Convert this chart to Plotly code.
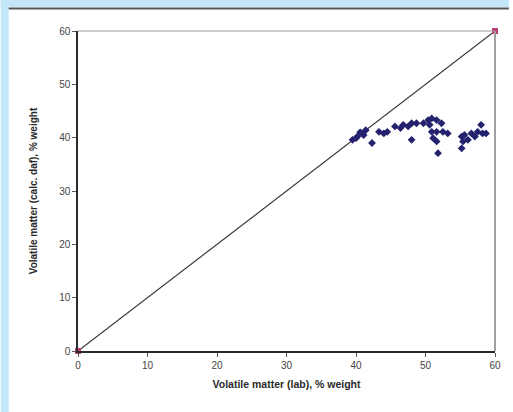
import plotly.graph_objects as go

# Laboratory vs calculated volatile matter (% weight)
vm_lab = [39.5, 40.2, 40.9, 41.4, 41.1, 42.3, 43.3, 44.0, 44.5, 45.6,
          46.4, 46.8, 47.5, 48.0, 48.0, 48.7, 49.7, 50.4, 50.9, 51.6,
          50.6, 50.9, 51.6, 51.1, 51.6, 51.8, 52.5, 53.2, 52.3, 55.2,
          55.6, 55.4, 55.2, 56.1, 56.6, 57.1, 57.5, 58.0, 58.7, 58.2,
          40.0, 40.6]
vm_calc = [39.6, 40.2, 40.8, 41.4, 40.5, 39.0, 41.1, 40.8, 41.1, 42.1,
           41.8, 42.4, 42.1, 39.6, 42.7, 42.7, 42.7, 43.3, 43.6, 43.3,
           42.4, 41.1, 41.1, 39.9, 39.3, 37.1, 41.1, 40.8, 42.7, 40.2,
           40.5, 39.3, 38.0, 39.6, 40.8, 40.2, 41.1, 42.4, 40.8, 40.8,
           39.9, 41.0]

# 1:1 reference line
ref_x = [0, 60]
ref_y = [0, 60]

ticks = [0, 10, 20, 30, 40, 50, 60]

fig = go.Figure()
fig.add_trace(go.Scatter(
    x=ref_x, y=ref_y, mode="lines+markers",
    line=dict(color="#3a3a3a", width=1.2),
    marker=dict(symbol="square", size=6, color="#c03a78"),
    cliponaxis=False, showlegend=False, hoverinfo="skip"))
fig.add_trace(go.Scatter(
    x=vm_lab, y=vm_calc, mode="markers",
    marker=dict(symbol="diamond", size=6, color="#24226e"),
    showlegend=False))

L, R, T, B = 78, 14, 31, 61
pw, ph = 513 - L - R, 412 - T - B

def px(v):
    return (v - L) / pw

def py(v):
    return (412 - B - v) / ph

shapes = [
    # light blue frame strips
    dict(type="rect", xref="paper", yref="paper", x0=px(0), x1=px(8),
         y0=py(412), y1=py(0), fillcolor="#c3e7f8", line=dict(width=0), layer="below"),
    dict(type="rect", xref="paper", yref="paper", x0=px(0), x1=px(513),
         y0=py(7), y1=py(0), fillcolor="#c3e7f8", line=dict(width=0), layer="below"),
    dict(type="line", xref="paper", yref="paper", x0=px(8), x1=px(513),
         y0=py(8.5), y1=py(8.5), line=dict(color="#555555", width=2)),
    # top and right plot borders
    dict(type="line", xref="paper", yref="paper", x0=0, x1=1, y0=1, y1=1,
         line=dict(color="#9a9a9a", width=1)),
    dict(type="line", xref="paper", yref="paper", x0=1, x1=1, y0=0, y1=1,
         line=dict(color="#a0a0a0", width=2)),
]

axis_common = dict(
    range=[0, 60], tickvals=ticks, showgrid=False, zeroline=False,
    showline=True, linecolor="#2a2a2a", linewidth=1.5,
    ticks="outside", ticklen=4, tickcolor="#555555",
    tickfont=dict(family="Liberation Sans, Arial", size=10, color="#444444"),
)

fig.update_layout(
    width=513, height=412,
    margin=dict(l=L, r=R, t=T, b=B),
    paper_bgcolor="white", plot_bgcolor="white",
    shapes=shapes,
    xaxis=dict(**axis_common,
               title=dict(text="Volatile matter (lab), % weight",
                          font=dict(family="Liberation Sans, Arial", size=10.5,
                                    color="#2a2a2a", weight="bold"),
                          standoff=11)),
    yaxis=dict(**axis_common,
               title=dict(text="Volatile matter (calc. daf), % weight",
                          font=dict(family="Liberation Sans, Arial", size=10,
                                    color="#2a2a2a", weight="bold"),
                          standoff=20)),
)

fig.write_html("out.html")
